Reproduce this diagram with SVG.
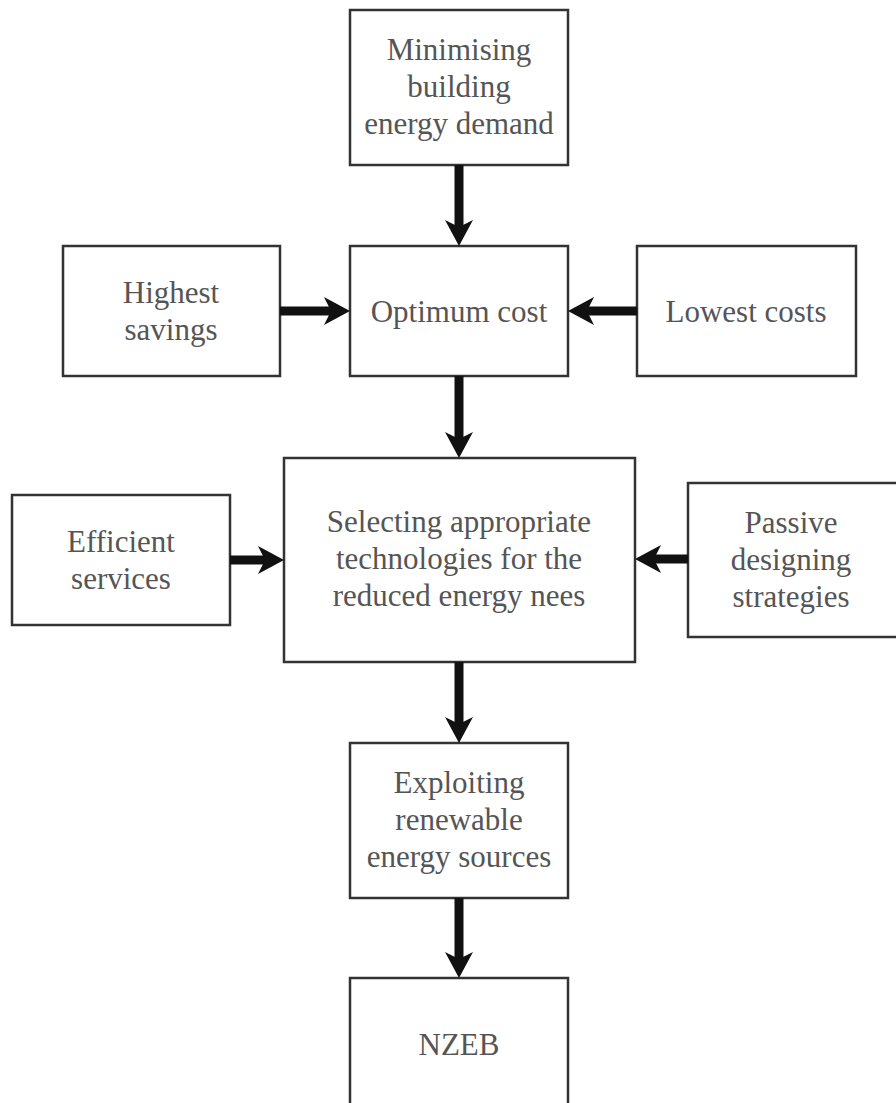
<svg xmlns="http://www.w3.org/2000/svg" width="896" height="1103" viewBox="0 0 896 1103">
<style>
.box{fill:#fff;stroke:#333;stroke-width:2.5}
.t{font-family:"Liberation Serif","Times New Roman",serif;font-size:31px;fill:#555;text-anchor:middle}
.c{stroke:#111;stroke-width:9;fill:none}
</style>
<defs>
<marker id="ah" viewBox="0 0 26 28" refX="7" refY="14" markerWidth="26" markerHeight="28" markerUnits="userSpaceOnUse" orient="auto">
<path d="M0,0 L26,14 L0,28 L7,14 Z" fill="#111"/>
</marker>
</defs>
<rect width="896" height="1103" fill="#fff"/>
<g id="n1"><rect class="box" x="350" y="10" width="218" height="155"/>
<text class="t" x="459" y="60">Minimising</text><text class="t" x="459" y="97">building</text><text class="t" x="459" y="134">energy demand</text></g>
<g id="n2"><rect class="box" x="350" y="246" width="218" height="130"/>
<text class="t" x="459" y="322">Optimum cost</text></g>
<g id="n3"><rect class="box" x="63" y="246" width="217" height="130"/>
<text class="t" x="171" y="303">Highest</text><text class="t" x="171" y="340">savings</text></g>
<g id="n4"><rect class="box" x="637" y="246" width="219" height="130"/>
<text class="t" x="746" y="322">Lowest costs</text></g>
<g id="n5"><rect class="box" x="284" y="458" width="351" height="204"/>
<text class="t" x="459" y="532">Selecting appropriate</text><text class="t" x="459" y="569">technologies for the</text><text class="t" x="459" y="606">reduced energy nees</text></g>
<g id="n6"><rect class="box" x="12" y="495" width="218" height="130"/>
<text class="t" x="121" y="552">Efficient</text><text class="t" x="121" y="589">services</text></g>
<g id="n7"><rect class="box" x="688" y="483" width="212" height="154"/>
<text class="t" x="791" y="533">Passive</text><text class="t" x="791" y="570">designing</text><text class="t" x="791" y="607">strategies</text></g>
<g id="n8"><rect class="box" x="350" y="743" width="218" height="155"/>
<text class="t" x="459" y="793">Exploiting</text><text class="t" x="459" y="830">renewable</text><text class="t" x="459" y="867">energy sources</text></g>
<g id="n9"><rect class="box" x="350" y="978" width="218" height="140"/>
<text class="t" x="459" y="1055">NZEB</text></g>
<g id="connectors">
<line class="c" x1="459" y1="165" x2="459" y2="227" marker-end="url(#ah)"/>
<line class="c" x1="459" y1="376" x2="459" y2="439" marker-end="url(#ah)"/>
<line class="c" x1="459" y1="662" x2="459" y2="724" marker-end="url(#ah)"/>
<line class="c" x1="459" y1="898" x2="459" y2="959" marker-end="url(#ah)"/>
<line class="c" x1="280" y1="311" x2="331" y2="311" marker-end="url(#ah)"/>
<line class="c" x1="637" y1="311" x2="587" y2="311" marker-end="url(#ah)"/>
<line class="c" x1="230" y1="560" x2="265" y2="560" marker-end="url(#ah)"/>
<line class="c" x1="688" y1="559" x2="654" y2="559" marker-end="url(#ah)"/>
</g>
</svg>
